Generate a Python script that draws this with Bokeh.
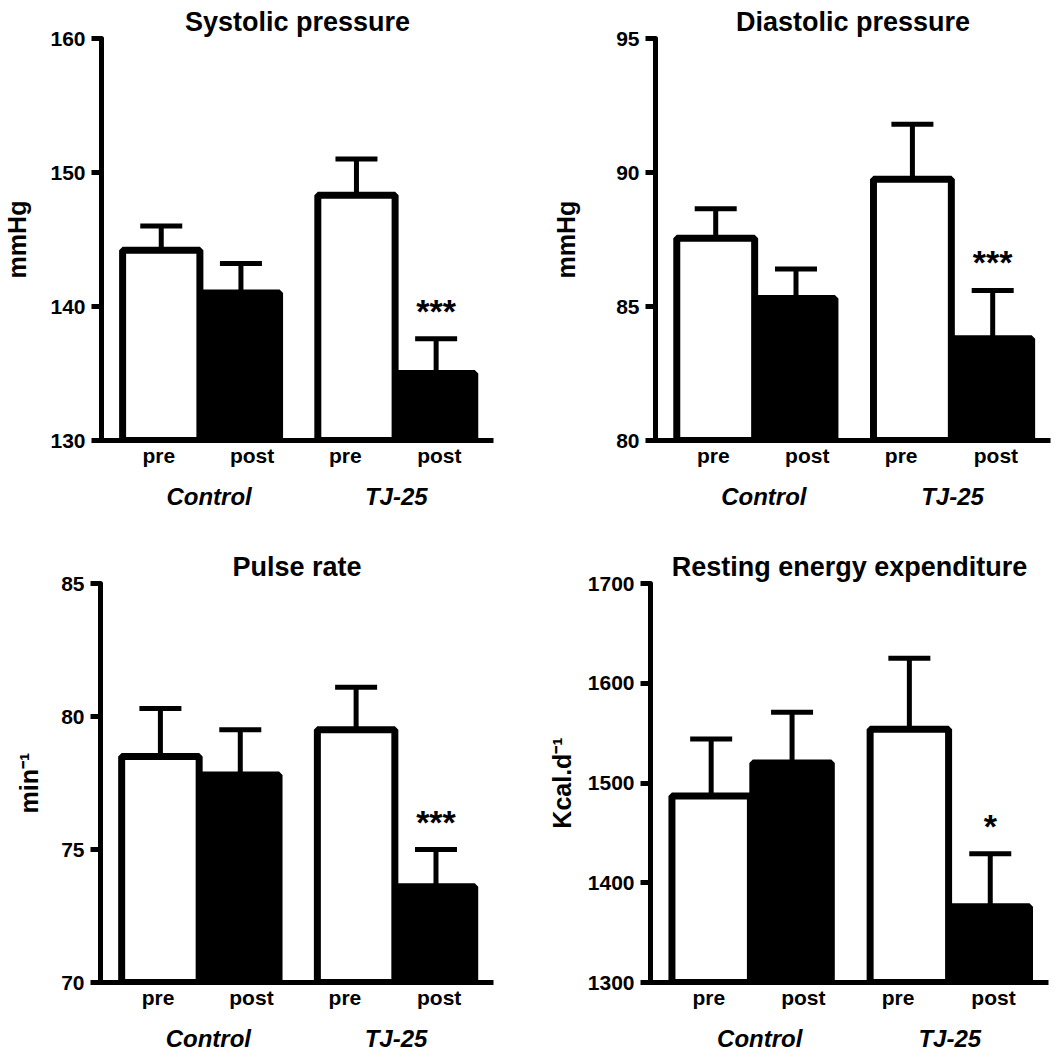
from bokeh.plotting import figure
from bokeh.models import Range1d, FixedTicker, LinearAxis, Whisker, TeeHead, ColumnDataSource
from bokeh.layouts import column, row
from bokeh.embed import file_html
from bokeh.resources import INLINE
from bokeh.core.properties import value

# ---- data ----
conditions = ["pre", "post", "pre", "post"]
groups = ["Control", "TJ-25"]
bar_x = [0.75, 1.75, 3.2, 4.2]
cond_ticks = [0.72, 1.89, 3.06, 4.24]
group_ticks = [1.35, 3.7]
fills = ["white", "black", "white", "black"]

systolic_mean = [144.2, 141.0, 148.3, 135.0]
systolic_sem = [1.8, 2.2, 2.7, 2.6]
systolic_ticks = [130, 140, 150, 160]

diastolic_mean = [87.55, 85.3, 89.75, 83.8]
diastolic_sem = [1.1, 1.1, 2.05, 1.8]
diastolic_ticks = [80, 85, 90, 95]

pulse_mean = [78.5, 77.8, 79.5, 73.6]
pulse_sem = [1.8, 1.7, 1.6, 1.4]
pulse_ticks = [70, 75, 80, 85]

ree_mean = [1487, 1520, 1554, 1376]
ree_sem = [57, 51, 71, 53]
ree_ticks = [1300, 1400, 1500, 1600, 1700]

stars = ["", "", "", "***"]
stars_ree = ["", "", "", "*"]

FONT = "Liberation Sans"


def panel(title, ylabel, mean, sem, yticks, star_text, borders, label_standoff):
    left, right, top, bottom, w, h = borders
    upper = [m + s for m, s in zip(mean, sem)]
    src = ColumnDataSource(dict(x=bar_x, mean=mean, upper=upper, fill=fills,
                                bottom=[yticks[0]] * 4, star=star_text))
    p = figure(width=w, height=h, output_backend="svg", toolbar_location=None,
               x_range=Range1d(0, 4.92), y_range=Range1d(yticks[0], yticks[-1]),
               min_border_left=left, min_border_right=right,
               min_border_top=top, min_border_bottom=bottom)
    p.outline_line_color = None
    p.grid.visible = False
    p.background_fill_color = "white"
    p.border_fill_color = "white"

    p.title.text = title
    p.title.align = "center"
    p.title.text_font = FONT
    p.title.text_font_size = "27px"
    p.title.text_font_style = "bold"
    p.title.text_color = "black"
    p.title.standoff = 3

    p.vbar(x="x", width=0.97, bottom="bottom", top="mean", source=src,
           fill_color="fill", line_color="black", line_width=7)
    wh = Whisker(base="x", upper="upper", lower="mean", source=src,
                 dimension="height", line_width=5, line_color="black",
                 upper_head=TeeHead(size=42, line_width=5, line_color="black"),
                 lower_head=None, level="overlay")
    p.add_layout(wh)
    p.text(x="x", y="upper", text="star", source=src, text_align="center",
           text_baseline="alphabetic", y_offset=-28, text_font=value(FONT),
           text_font_size="34px", text_font_style="bold", text_color="black")

    ya = p.yaxis[0]
    ya.ticker = FixedTicker(ticks=yticks)
    ya.axis_line_width = 5
    ya.axis_line_cap = "round"
    ya.major_tick_line_width = 5
    ya.major_tick_out = 10
    ya.major_tick_in = 0
    ya.minor_tick_line_color = None
    ya.major_label_standoff = 6
    ya.major_label_text_font = FONT
    ya.major_label_text_font_size = "21px"
    ya.major_label_text_font_style = "bold"
    ya.major_label_text_color = "black"
    ya.axis_label = ylabel
    ya.axis_label_text_font = FONT
    ya.axis_label_text_font_size = "25px"
    ya.axis_label_text_font_style = "bold"
    ya.axis_label_text_color = "black"
    ya.axis_label_standoff = label_standoff

    xa = p.xaxis[0]
    xa.ticker = FixedTicker(ticks=cond_ticks)
    xa.major_label_overrides = {t: c for t, c in zip(cond_ticks, conditions)}
    xa.axis_line_width = 5
    xa.major_tick_line_color = None
    xa.minor_tick_line_color = None
    xa.major_tick_out = 0
    xa.major_tick_in = 0
    xa.major_label_standoff = 3
    xa.major_label_text_font = FONT
    xa.major_label_text_font_size = "21px"
    xa.major_label_text_font_style = "bold"
    xa.major_label_text_color = "black"

    ga = LinearAxis(ticker=FixedTicker(ticks=group_ticks),
                    major_label_overrides={t: g for t, g in zip(group_ticks, groups)})
    ga.axis_line_color = None
    ga.major_tick_line_color = None
    ga.minor_tick_line_color = None
    ga.major_tick_out = 0
    ga.major_tick_in = 0
    ga.major_label_standoff = 13
    ga.major_label_text_font = FONT
    ga.major_label_text_font_size = "24px"
    ga.major_label_text_font_style = "bold italic"
    ga.major_label_text_color = "black"
    p.add_layout(ga, "below")
    return p


p1 = panel("Systolic pressure", "mmHg", systolic_mean, systolic_sem, systolic_ticks,
           stars, (100, 37, 38, 87, 530, 527), 16)
p2 = panel("Diastolic pressure", "mmHg", diastolic_mean, diastolic_sem, diastolic_ticks,
           stars, (125, 10, 38, 87, 530, 527), 33)
p3 = panel("Pulse rate", "min\u207b\u00b9", pulse_mean, pulse_sem, pulse_ticks,
           stars, (100, 37, 56, 71, 530, 527), 15)
p4 = panel("Resting energy expenditure", "Kcal.d\u207b\u00b9", ree_mean, ree_sem, ree_ticks,
           stars_ree, (120, 12, 56, 71, 530, 527), 9)

layout = column(row(p1, p2), row(p3, p4))
open("out.html", "w").write(file_html(layout, INLINE))
